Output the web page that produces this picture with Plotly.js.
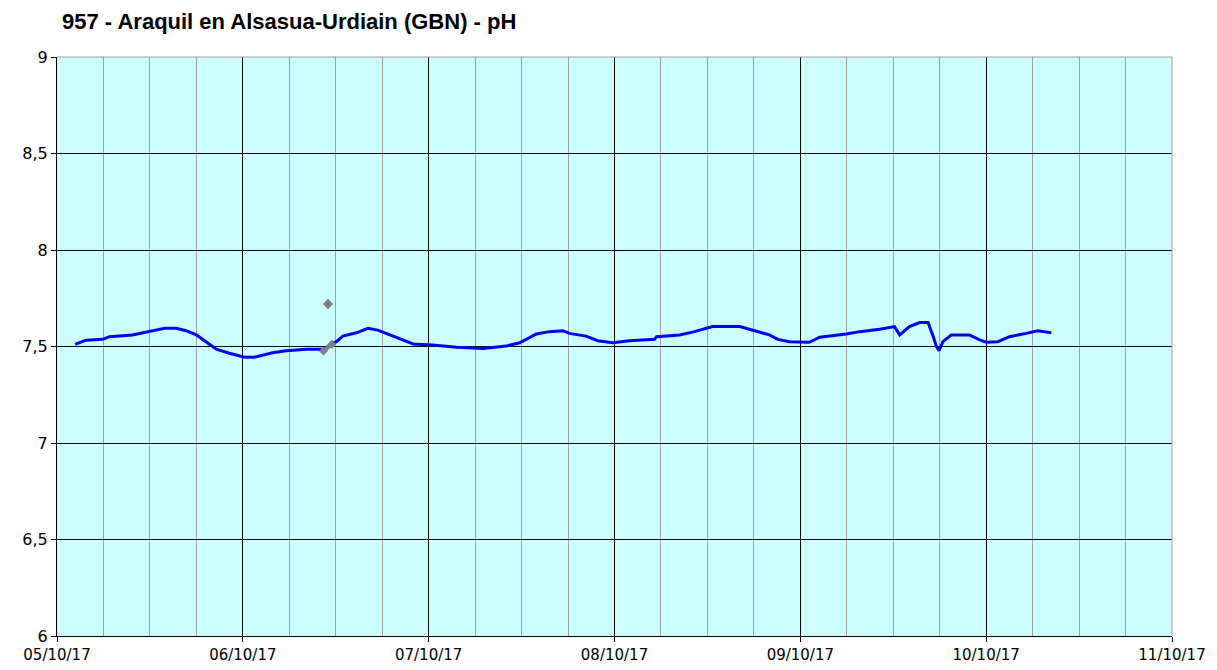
<!DOCTYPE html>
<html>
<head>
<meta charset="utf-8">
<script src="https://cdn.plot.ly/plotly-3.0.1.min.js"></script>
<style>html,body{margin:0;padding:0;background:#fff}#chart{width:1217px;height:670px}</style>
</head>
<body>
<div id="chart"></div>
<script>
const chartTitle = "957 - Araquil en Alsasua-Urdiain (GBN) - pH";

const phTimes = [
  "2017-10-05 02:20","2017-10-05 03:45","2017-10-05 05:55","2017-10-05 06:45","2017-10-05 09:45",
  "2017-10-05 11:40","2017-10-05 13:55","2017-10-05 15:25","2017-10-05 16:40","2017-10-05 18:00",
  "2017-10-05 19:15","2017-10-05 20:35","2017-10-05 22:15","2017-10-06 00:15","2017-10-06 01:30",
  "2017-10-06 03:50","2017-10-06 05:35","2017-10-06 08:10","2017-10-06 10:20","2017-10-06 12:05",
  "2017-10-06 12:55","2017-10-06 14:40","2017-10-06 16:10","2017-10-06 17:25","2017-10-06 18:30",
  "2017-10-06 20:15","2017-10-06 22:00","2017-10-07 00:30","2017-10-07 03:35","2017-10-07 07:00",
  "2017-10-07 10:00","2017-10-07 11:45","2017-10-07 13:55","2017-10-07 15:35","2017-10-07 17:20",
  "2017-10-07 18:10","2017-10-07 20:20","2017-10-07 21:50","2017-10-07 23:45","2017-10-08 01:55",
  "2017-10-08 05:10","2017-10-08 05:25","2017-10-08 08:25","2017-10-08 10:20","2017-10-08 12:40",
  "2017-10-08 16:10","2017-10-08 17:50","2017-10-08 20:00","2017-10-08 21:05","2017-10-08 22:35",
  "2017-10-09 01:10","2017-10-09 02:30","2017-10-09 05:55","2017-10-09 07:40","2017-10-09 10:15",
  "2017-10-09 12:10","2017-10-09 12:50","2017-10-09 14:05","2017-10-09 15:25","2017-10-09 16:30",
  "2017-10-09 17:10","2017-10-09 17:35","2017-10-09 17:55","2017-10-09 18:25","2017-10-09 19:30",
  "2017-10-09 21:50","2017-10-09 23:10","2017-10-10 00:00","2017-10-10 01:30","2017-10-10 03:00",
  "2017-10-10 05:10","2017-10-10 06:40","2017-10-10 08:25"
];
const phValues = [
  7.511,7.533,7.537,7.551,7.560,
  7.577,7.594,7.594,7.582,7.560,
  7.525,7.486,7.465,7.444,7.444,
  7.468,7.478,7.486,7.486,7.525,
  7.554,7.571,7.594,7.585,7.568,
  7.542,7.513,7.508,7.496,7.490,
  7.502,7.519,7.565,7.577,7.582,
  7.568,7.554,7.530,7.519,7.530,
  7.537,7.551,7.560,7.577,7.603,
  7.603,7.585,7.560,7.537,7.525,
  7.522,7.548,7.565,7.577,7.589,
  7.603,7.560,7.603,7.624,7.624,
  7.551,7.499,7.478,7.525,7.560,
  7.560,7.534,7.522,7.525,7.551,
  7.568,7.582,7.571
];

const sampleTimes = ["2017-10-06 10:25","2017-10-06 11:30"];
const sampleValues = [7.477, 7.512];
const outlierTimes = ["2017-10-06 11:00"];
const outlierValues = [7.72];

const yTickVals = [6, 6.5, 7, 7.5, 8, 8.5, 9];
const yTickText = ["6", "6,5", "7", "7,5", "8", "8,5", "9"];
const xTickVals = ["2017-10-05","2017-10-06","2017-10-07","2017-10-08","2017-10-09","2017-10-10","2017-10-11"];
const xTickText = ["05/10/17","06/10/17","07/10/17","08/10/17","09/10/17","10/10/17","11/10/17"];

const traces = [
  {x: phTimes, y: phValues, type: "scatter", mode: "lines",
   line: {color: "#0000ff", width: 3}, hoverinfo: "x+y"},
  {x: sampleTimes, y: sampleValues, type: "scatter", mode: "lines+markers",
   line: {color: "#808080", width: 4}, marker: {symbol: "diamond", size: 7, color: "#808080"}},
  {x: outlierTimes, y: outlierValues, type: "scatter", mode: "markers",
   marker: {symbol: "diamond", size: 8, color: "#808080"}}
];

const layout = {
  width: 1217, height: 670,
  margin: {l: 57, r: 45, t: 57, b: 34, pad: 0},
  paper_bgcolor: "#ffffff",
  plot_bgcolor: "#ccffff",
  showlegend: false,
  title: {text: chartTitle, x: 62/1217, xanchor: "left", y: 1 - 21/670, yanchor: "middle",
          font: {family: "Liberation Sans, Arial, sans-serif", size: 22, color: "#000000", weight: "bold"}},
  xaxis: {
    type: "date", range: ["2017-10-05", "2017-10-11"],
    tickmode: "array", tickvals: xTickVals, ticktext: xTickText,
    ticks: "outside", ticklen: 5, tickcolor: "#000", tickwidth: 1,
    showgrid: true, gridcolor: "#000000", gridwidth: 1,
    minor: {dtick: 6*3600*1000, tick0: "2017-10-05", showgrid: true, gridcolor: "#a0a0a0", gridwidth: 1, ticks: ""},
    showline: true, linecolor: "#000", linewidth: 1, zeroline: false,
    tickfont: {family: "DejaVu Sans, Verdana, sans-serif", size: 15, color: "#000"},
    fixedrange: true
  },
  yaxis: {
    range: [6, 9], tickmode: "array", tickvals: yTickVals, ticktext: yTickText,
    ticks: "outside", ticklen: 5, tickcolor: "#000", tickwidth: 1,
    showgrid: true, gridcolor: "#000000", gridwidth: 1,
    showline: true, linecolor: "#000", linewidth: 1, zeroline: false,
    tickfont: {family: "DejaVu Sans, Verdana, sans-serif", size: 16, color: "#000"},
    fixedrange: true
  },
  shapes: [
    {type: "line", xref: "paper", yref: "paper", x0: 0, x1: 1, y0: 1, y1: 1, line: {color: "#a0a0a0", width: 1}, layer: "above"},
    {type: "line", xref: "paper", yref: "paper", x0: 1, x1: 1, y0: 0, y1: 1, line: {color: "#a0a0a0", width: 1}, layer: "above"}
  ]
};

Plotly.newPlot("chart", traces, layout, {displayModeBar: false, staticPlot: true});
</script>
</body>
</html>
